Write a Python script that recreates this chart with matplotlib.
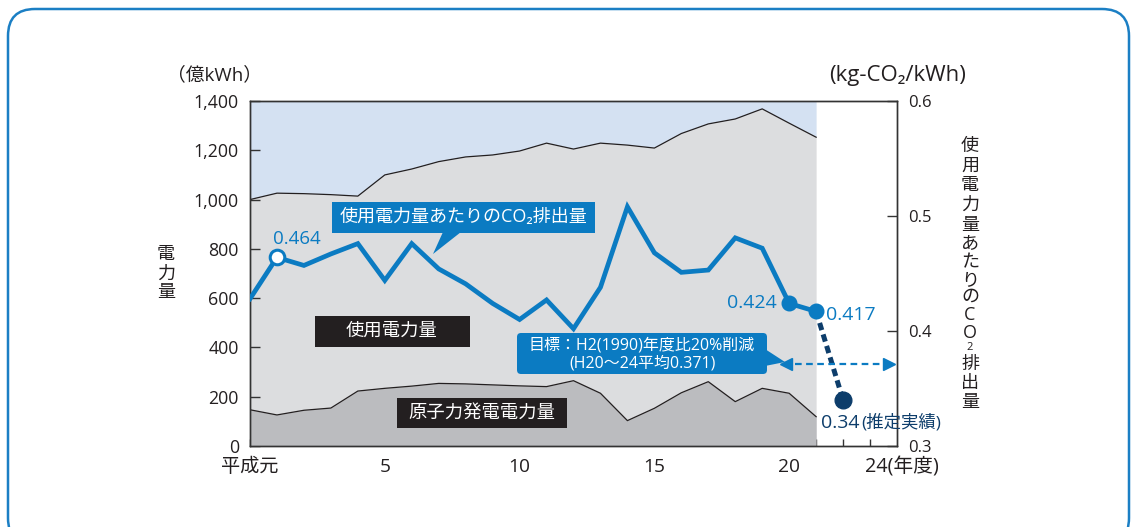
import matplotlib
matplotlib.use('Agg')
import matplotlib.pyplot as plt
from matplotlib.patches import FancyBboxPatch, Rectangle, Polygon
from matplotlib.transforms import IdentityTransform

plt.rcParams['font.family'] = ['Open Sans', 'Noto Sans CJK JP', 'DejaVu Sans']

# ---------------- data ----------------
# position index along the x axis (0 = 平成元)
years = list(range(0, 22))
usage = [1000, 1026, 1024, 1020, 1014, 1100, 1124, 1154, 1173, 1181, 1197,
         1229, 1205, 1229, 1221, 1209, 1268, 1307, 1327, 1368, 1310, 1253]
nuclear = [147, 126, 145, 154, 223, 234, 243, 254, 252, 248, 244,
           241, 265, 214, 103, 153, 216, 261, 180, 234, 214, 119]
co2 = [0.428, 0.464, 0.457, 0.467, 0.476, 0.444, 0.476, 0.454, 0.441, 0.424, 0.410,
       0.427, 0.402, 0.438, 0.508, 0.468, 0.451, 0.453, 0.481, 0.472, 0.424, 0.417]
co2_est_year = 22
co2_est = 0.34
target = 0.371
xtick_pos = [0, 5, 10, 15, 20]
xtick_labels = ['平成元', '5', '10', '15', '20']
left_ticks = [0, 200, 400, 600, 800, 1000, 1200, 1400]
left_labels = ['0', '200', '400', '600', '800', '1,000', '1,200', '1,400']
right_ticks = [0.3, 0.4, 0.5, 0.6]
right_labels = ['0.3', '0.4', '0.5', '0.6']

# ---------------- style ----------------
BLUE = '#0b7bc2'
NAVY = '#0d3d6b'
SKY = '#d4e1f2'
GRAY = '#dcdddf'
DGRAY = '#bbbcbf'
INK = '#231f20'

W, H = 1136, 527
fig = plt.figure(figsize=(W / 100, H / 100), dpi=100)
ID = IdentityTransform()


def P(x, y):
    return (x, H - y)


ax = fig.add_axes([250 / W, 1 - 446 / H, (897 - 250) / W, (446 - 101) / H])
ax.set_xlim(0, 24)
ax.set_ylim(0, 1400)

ax.fill_between(years, usage, 1400, color=SKY, lw=0, zorder=1)
ax.fill_between(years, 0, usage, color=GRAY, lw=0, zorder=1)
ax.fill_between(years, 0, nuclear, color=DGRAY, lw=0, zorder=2)
ax.plot(years, usage, color=INK, lw=0.9, zorder=3)
ax.plot(years, nuclear, color=INK, lw=0.9, zorder=3)

ax.set_yticks(left_ticks)
ax.set_yticklabels(left_labels)
ax.set_xticks(list(range(0, 24)))
ax.set_xticklabels([''] * 24)
ax.tick_params(axis='y', direction='in', length=7, width=1, color='#333333',
               labelsize=12.8, labelcolor=INK, pad=8)
ax.tick_params(axis='x', direction='in', length=5, width=1, color='#333333')
for s in ax.spines.values():
    s.set_color('#333333')
    s.set_linewidth(1.0)

ax2 = ax.twinx()
ax2.set_ylim(0.3, 0.6)
ax2.set_yticks(right_ticks)
ax2.set_yticklabels(right_labels)
ax2.tick_params(axis='y', direction='in', length=7, width=1, color='#333333',
                labelsize=12, labelcolor=INK, pad=8)
for s in ax2.spines.values():
    s.set_color('#333333')
    s.set_linewidth(1.0)

# CO2 line
ax2.plot(years, co2, color=BLUE, lw=3.4, solid_joinstyle='miter', zorder=4)
ax2.plot([years[-1], co2_est_year], [co2[-1], co2_est], color=NAVY, lw=3.6,
         dashes=(1.5, 0.9), zorder=4)
ax2.plot(years[1], co2[1], marker='o', ms=10.5, mfc='white', mec=BLUE, mew=2.2, zorder=6)
ax2.plot(years[-2:], co2[-2:], ls='none', marker='o', ms=10.5, mfc=BLUE, mec=BLUE, zorder=6)
ax2.plot(co2_est_year, co2_est, marker='o', ms=12, mfc=NAVY, mec=NAVY, zorder=6)

# target double arrow
ax2.plot([20.2, 23.4], [target, target], color=BLUE, lw=1.6, dashes=(3, 2), zorder=5)
ax2.plot(19.9, target, marker='<', ms=9, color=BLUE, zorder=5)
ax2.plot(23.7, target, marker='>', ms=9, color=BLUE, zorder=5)

# ---------------- texts / boxes (pixel layout) ----------------
def txt(x, y, s, size, color=INK, ha='center', va='center', **kw):
    fig.text(x / W, 1 - y / H, s, fontsize=size, color=color, ha=ha, va=va, **kw)


# x tick labels
for pos, lab in zip(xtick_pos, xtick_labels):
    txt(250 + pos * (647 / 24), 467, lab, 13.8)
txt(865, 467, '24(年度)', 14.2, ha='left')

# units
txt(215, 75, '（億kWh）', 13.5)
txt(898, 75, '(kg-CO₂/kWh)', 16)

# left vertical label
for ch, y in zip('電力量', [254, 274, 292]):
    txt(166, y, ch, 13)

# right vertical label
rchars = ['使', '用', '電', '力', '量', 'あ', 'た', 'り', 'の', 'C', 'O', '2', '排', '出', '量']
rys = [146, 166, 185, 205, 225, 243, 262, 280, 297, 315, 333, 348, 364, 383, 402]
for ch, y in zip(rchars, rys):
    txt(970, y, ch, 8 if ch == '2' else 13)

# black label boxes
def rect(x0, y0, x1, y1, color, rounded=0, z=2):
    if rounded:
        p = FancyBboxPatch((x0, H - y1), x1 - x0, y1 - y0,
                           boxstyle=f'round,pad=0,rounding_size={rounded}',
                           transform=ID, facecolor=color, edgecolor='none', zorder=z)
    else:
        p = Rectangle((x0, H - y1), x1 - x0, y1 - y0, transform=ID,
                      facecolor=color, edgecolor='none', zorder=z)
    fig.patches.append(p)


rect(315, 316, 470, 347, INK)
txt(392, 331, '使用電力量', 13.2, color='white')
rect(397, 398, 567, 428, INK)
txt(482, 413, '原子力発電電力量', 13.2, color='white')

# CO2 callout
rect(332, 202, 595, 233, BLUE)
fig.patches.append(Polygon([P(443, 232), P(461, 232), P(433, 254)], closed=True,
                           transform=ID, facecolor=BLUE, edgecolor='none', zorder=2))
txt(463, 217, '使用電力量あたりのCO₂排出量', 13, color='white')

# target callout
rect(517, 333, 767, 374, BLUE, rounded=4)
fig.patches.append(Polygon([P(765, 349), P(765, 366), P(785, 362)], closed=True,
                           transform=ID, facecolor=BLUE, edgecolor='none', zorder=2))
txt(642, 345, '目標：H2(1990)年度比20%削減', 11.5, color='white')
txt(643, 363, '(H20〜24平均0.371)', 11.5, color='white')

# value labels
txt(297, 239, '0.464', 13.5, color=BLUE)
txt(777, 303, '0.424', 14, color=BLUE, ha='right')
txt(826, 315, '0.417', 14, color=BLUE, ha='left')
txt(821, 423, '0.34', 14, color=NAVY, ha='left')
txt(861, 423, '(推定実績)', 12.5, color=NAVY, ha='left')

# outer rounded frame
fig.patches.append(FancyBboxPatch((8, H - 545), 1121, 545 - 9,
                                  boxstyle='round,pad=0,rounding_size=27',
                                  transform=ID, facecolor='none',
                                  edgecolor='#1b7fc4', lw=1.8, zorder=10))

fig.savefig('out.png', dpi=100)
